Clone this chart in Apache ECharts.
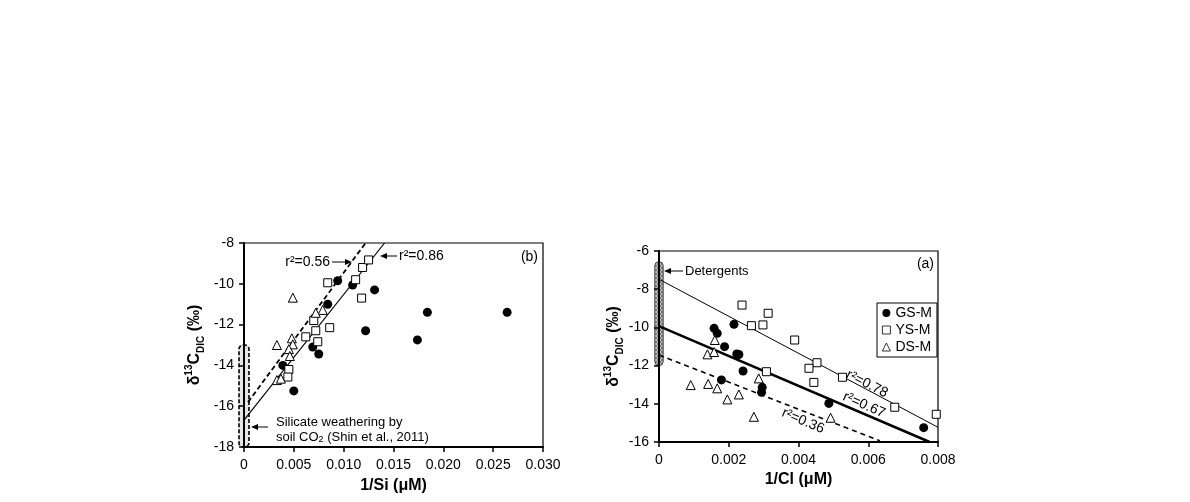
<!DOCTYPE html>
<html><head><meta charset="utf-8">
<script src="https://cdn.jsdelivr.net/npm/echarts/dist/echarts.min.js"></script>
<style>html,body{margin:0;padding:0;background:#fff}#c{width:1190px;height:502px}</style>
</head><body><div id="c"></div>
<script>
// ---- Data: panel (b) δ13C vs 1/Si ----
const gsLeft = [[0.0039,-14.0],[0.0050,-15.25],[0.0069,-13.1],[0.0075,-13.44],[0.0084,-11.0],[0.0094,-9.85],[0.0109,-10.06],[0.0131,-10.3],[0.0122,-12.3],[0.0174,-12.75],[0.0184,-11.4],[0.0264,-11.4]];
const ysLeft = [[0.0084,-9.95],[0.0112,-9.8],[0.0118,-10.7],[0.0119,-9.2],[0.0125,-8.83],[0.0086,-12.15],[0.0070,-11.8],[0.0072,-12.3],[0.0062,-12.6],[0.0074,-12.84],[0.0045,-14.2],[0.0044,-14.57]];
const dsLeft = [[0.0049,-10.68],[0.0079,-11.28],[0.0072,-11.42],[0.0033,-13.0],[0.0048,-12.67],[0.0049,-12.97],[0.0045,-13.2],[0.0046,-13.54],[0.0033,-14.72],[0.0037,-14.65]];
const fitLeftSolid = [[0,-16.68],[0.0141,-8]];
const fitLeftDashed = [[0.0004,-15.8],[0.0122,-8]];
const bandLeft = [[-0.0005,-18,0.0005,-13]];
const xTicksLeft = {min:0, max:0.030, interval:0.005};
const yTicksLeft = {min:-18, max:-8, interval:2};

// ---- Data: panel (a) δ13C vs 1/Cl ----
const gsRight = [[0.00158,-10.05],[0.00167,-10.31],[0.00215,-9.84],[0.00188,-11.01],[0.00223,-11.39],[0.00229,-11.42],[0.00241,-12.28],[0.00179,-12.75],[0.00296,-13.14],[0.00294,-13.4],[0.00487,-13.98],[0.00759,-15.25]];
const ysRight = [[0.00238,-8.83],[0.00313,-9.26],[0.00265,-9.91],[0.00298,-9.87],[0.00308,-12.32],[0.00389,-10.66],[0.00453,-11.85],[0.0043,-12.14],[0.00444,-12.88],[0.00526,-12.61],[0.00676,-14.18],[0.00795,-14.55]];
const dsRight = [[0.0016,-10.66],[0.00139,-11.41],[0.00158,-11.29],[0.00091,-13.02],[0.00141,-12.96],[0.00167,-13.19],[0.00196,-13.77],[0.00229,-13.51],[0.00286,-12.67],[0.00272,-14.68],[0.00492,-14.73]];
const fitRightYS = [[0,-7.48],[0.008,-15.23]];
const fitRightGS = [[0,-9.93],[0.00776,-16]];
const fitRightDS = [[0,-11.45],[0.00633,-15.93]];
const bandRight = [[-0.00012,-12,0.00012,-6.56]];
const xTicksRight = {min:0, max:0.008, interval:0.002};
const yTicksRight = {min:-16, max:-6, interval:2};

const FONT = '"Liberation Sans", Arial, sans-serif';

// dotted pattern for detergents bar
const pc = document.createElement('canvas'); pc.width = 4; pc.height = 4;
const pctx = pc.getContext('2d');
pctx.fillStyle = '#d0d0d0'; pctx.fillRect(0,0,4,4);
pctx.strokeStyle = '#555'; pctx.lineWidth = 0.8;
pctx.beginPath(); pctx.arc(2,2,1.5,0,Math.PI*2); pctx.stroke();

const chart = echarts.init(document.getElementById('c'));

function xAxis(idx, t){
  return {type:'value', gridIndex:idx, min:t.min, max:t.max, interval:t.interval,
    name: idx===0 ? '1/Si (\u03bcM)' : '1/Cl (\u03bcM)', nameLocation:'middle', nameGap: idx===0?31:30,
    nameTextStyle:{fontFamily:FONT, fontSize:16, fontWeight:'bold', color:'#000'},
    axisLine:{show:true, onZero:false, lineStyle:{color:'#000', width:2}},
    axisTick:{show:true, inside:false, length:5, lineStyle:{color:'#000', width:1.5}},
    axisLabel:{color:'#000', fontFamily:FONT, fontSize:14, margin:11,
      formatter: v => v===0 ? '0' : v.toFixed(3)},
    splitLine:{show:false}};
}
function yAxis(idx, t){
  return {type:'value', gridIndex:idx, min:t.min, max:t.max, interval:t.interval,
    name:'\u03b4{sup|13}C{sub|DIC} (\u2030)', nameLocation:'middle', nameRotate:90, nameGap: idx===0?38:34,
    nameTextStyle:{fontFamily:FONT, fontSize:16, fontWeight:'bold', color:'#000', lineHeight:22,
      rich:{sup:{fontFamily:FONT, fontSize:10, fontWeight:'bold', verticalAlign:'top', lineHeight:22},
            sub:{fontFamily:FONT, fontSize:10, fontWeight:'bold', verticalAlign:'bottom', lineHeight:18}}},
    axisLine:{show:true, onZero:false, lineStyle:{color:'#000', width:2}},
    axisTick:{show:true, inside:false, length:5, lineStyle:{color:'#000', width:1.5}},
    axisLabel:{color:'#000', fontFamily:FONT, fontSize:14, margin:10},
    splitLine:{show:false}};
}
function fitLine(data, idx, style){
  return {type:'line', xAxisIndex:idx, yAxisIndex:idx, data:data, symbol:'none', silent:true,
    lineStyle:Object.assign({color:'#000'}, style), z:1, animation:false};
}
function pts(name, data, idx, symbol, size, filled){
  return {type:'scatter', name:name, xAxisIndex:idx, yAxisIndex:idx, data:data, symbol:symbol, symbolSize:size,
    itemStyle: filled ? {color:'#000', opacity:1} : {color:'#fff', borderColor:'#000', borderWidth:1, opacity:1},
    z:3, animation:false};
}
function band(data, idx, kind){
  return {type:'custom', xAxisIndex:idx, yAxisIndex:idx, data:data, silent:true, z:0, clip:false,
    renderItem:(params, api)=>{
      const p0 = api.coord([api.value(0), api.value(3)]);
      const p1 = api.coord([api.value(2), api.value(1)]);
      const shape = {x:p0[0], y:p0[1], width:p1[0]-p0[0], height:p1[1]-p0[1], r:4};
      if (kind === 'dash') {
        return {type:'rect', shape:shape, style:{fill:'rgba(200,200,200,0.45)', stroke:'#000', lineWidth:1.6, lineDash:[4,2]}};
      }
      return {type:'rect', shape:shape, style:{fill:{image:pc, repeat:'repeat'}, stroke:'#444', lineWidth:1}};
    }};
}

function arrow(x1, y1, x2, y2){
  const dx = x2-x1, dy = y2-y1, L = Math.hypot(dx,dy), ux = dx/L, uy = dy/L;
  const hl = 7, hw = 3;
  const bx = x2 - ux*hl, by = y2 - uy*hl;
  return [
    {type:'line', shape:{x1:x1, y1:y1, x2:bx, y2:by}, style:{stroke:'#000', lineWidth:1}},
    {type:'polygon', shape:{points:[[x2,y2],[bx - uy*hw, by + ux*hw],[bx + uy*hw, by - ux*hw]]}, style:{fill:'#000'}}
  ];
}
function txt(x, y, text, opts){
  return {type:'text', x:x, y:y, style:Object.assign({text:text, fill:'#000', font:'14px '+FONT, textAlign:'left', textVerticalAlign:'middle'}, opts||{})};
}
function rtxt(x, y, text, rot){
  const t = txt(x, y, text, {textAlign:'center'});
  t.rotation = rot;
  return t;
}

const graphics = [].concat(
  [txt(330, 262, 'r\u00b2=0.56', {textAlign:'right'})], arrow(332, 262, 352, 262),
  [txt(399, 256, 'r\u00b2=0.86')], arrow(397, 256, 380, 256),
  [txt(538, 257, '(b)', {textAlign:'right'})],
  [txt(276, 422, 'Silicate weathering by', {font:'13px '+FONT})],
  [{type:'text', x:276, y:437, style:{text:'soil CO{s|2} (Shin et al., 2011)', fill:'#000', font:'13px '+FONT, textVerticalAlign:'middle',
     rich:{s:{fontSize:9, fontFamily:FONT, verticalAlign:'bottom', padding:[6,0,0,0]}}}}],
  arrow(268, 427, 251, 427),
  [txt(934, 264, '(a)', {textAlign:'right'})],
  [txt(685, 271, 'Detergents', {font:'13px '+FONT})], arrow(683, 271, 664, 271),
  [rtxt(867, 384, 'r\u00b2=0.78', -0.47)],
  [rtxt(864, 405, 'r\u00b2=0.67', -0.42)],
  [rtxt(803, 421, 'r\u00b2=0.36', -0.40)]
);

chart.setOption({
  animation:false,
  backgroundColor:'#fff',
  textStyle:{fontFamily:FONT},
  grid:[
    {left:244, top:243, width:299, height:204, show:true, borderColor:'#000', borderWidth:1.2, backgroundColor:'transparent'},
    {left:659, top:251, width:279, height:191, show:true, borderColor:'#000', borderWidth:1.2, backgroundColor:'transparent'}
  ],
  xAxis:[xAxis(0, xTicksLeft), xAxis(1, xTicksRight)],
  yAxis:[yAxis(0, yTicksLeft), yAxis(1, yTicksRight)],
  legend:{data:['GS-M','YS-M','DS-M'], orient:'vertical', left:877, top:303, selectedMode:false,
    backgroundColor:'#fff', borderColor:'#000', borderWidth:1, padding:[3,5,3,5], itemGap:3,
    itemWidth:8, itemHeight:8, itemStyle:{borderWidth:0.8},
    textStyle:{fontFamily:FONT, fontSize:14, color:'#000'}},
  series:[
    band(bandLeft, 0, 'dash'),
    fitLine(fitLeftSolid, 0, {width:1.2}),
    fitLine(fitLeftDashed, 0, {width:1.8, type:[5,3]}),
    pts('GS-M', gsLeft, 0, 'circle', 9, true),
    pts('YS-M', ysLeft, 0, 'rect', 8, false),
    pts('DS-M', dsLeft, 0, 'triangle', 9, false),
    band(bandRight, 1, 'dot'),
    fitLine(fitRightYS, 1, {width:1}),
    fitLine(fitRightGS, 1, {width:2.5}),
    fitLine(fitRightDS, 1, {width:1.6, type:[5,4]}),
    pts('GS-M', gsRight, 1, 'circle', 9, true),
    pts('YS-M', ysRight, 1, 'rect', 8, false),
    pts('DS-M', dsRight, 1, 'triangle', 9, false)
  ],
  graphic:graphics
});
</script></body></html>
